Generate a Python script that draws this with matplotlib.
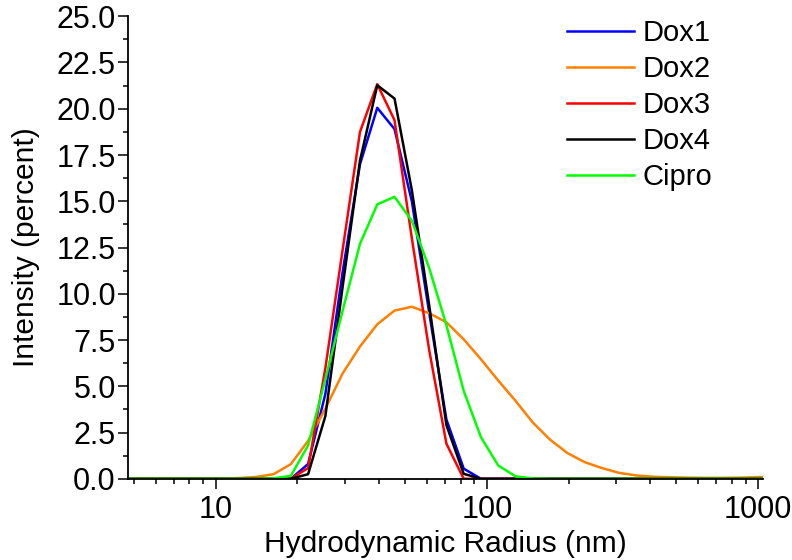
import matplotlib
matplotlib.use("Agg")
import matplotlib.pyplot as plt
from matplotlib.ticker import MultipleLocator, LogLocator, FixedLocator

plt.rcParams['font.family'] = ['Liberation Sans', 'DejaVu Sans']

# size classes (nm)
radius = [4.36, 5.05, 5.85, 6.77, 7.85, 9.08, 10.52, 12.18, 14.11, 16.34,
          18.92, 21.91, 25.38, 29.39, 34.04, 39.42, 45.64, 52.87, 61.23, 70.91,
          82.12, 95.08, 110.1, 127.6, 147.7, 171.1, 198.2, 229.4, 265.7, 307.7,
          356.3, 412.7, 478.0, 553.4, 641.0, 742.4, 859.7, 995.4, 1153]

dox1 = [0, 0, 0, 0, 0, 0, 0, 0, 0, 0,
        0.0, 0.8, 4.6, 11.2, 17.0, 20.05, 18.9, 15.0, 9.0, 3.2,
        0.55, 0, 0, 0, 0, 0, 0, 0, 0, 0,
        0, 0, 0, 0, 0, 0, 0, 0, 0]
dox2 = [0.01, 0.01, 0.01, 0.01, 0.01, 0.01, 0.02, 0.04, 0.1, 0.25,
        0.79, 2.05, 3.8, 5.7, 7.15, 8.35, 9.09, 9.30, 8.95, 8.46,
        7.54, 6.46, 5.31, 4.21, 3.04, 2.11, 1.39, 0.90, 0.58, 0.32,
        0.18, 0.11, 0.08, 0.06, 0.05, 0.05, 0.06, 0.09, 0.12]
dox3 = [0, 0, 0, 0, 0, 0, 0, 0, 0, 0,
        0.0, 0.58, 6.0, 12.4, 18.75, 21.33, 19.38, 13.0, 6.97, 1.9,
        0.0, 0, 0, 0, 0, 0, 0, 0, 0, 0,
        0, 0, 0, 0, 0, 0, 0, 0, 0]
dox4 = [0, 0, 0, 0, 0, 0, 0, 0, 0, 0,
        0.0, 0.25, 3.4, 10.4, 17.2, 21.27, 20.55, 15.6, 9.4, 2.9,
        0.27, 0, 0, 0, 0, 0, 0, 0, 0, 0,
        0, 0, 0, 0, 0, 0, 0, 0, 0]
cipro = [0, 0, 0, 0, 0, 0, 0, 0, 0, 0.02,
         0.16, 1.8, 5.4, 9.1, 12.7, 14.83, 15.24, 13.95, 11.4, 8.3,
         4.75, 2.25, 0.72, 0.13, 0.02, 0, 0, 0, 0, 0,
         0, 0, 0, 0, 0, 0, 0, 0, 0]

series = [("Dox1", dox1, "#0000ff"),
          ("Dox2", dox2, "#ff7f00"),
          ("Dox3", dox3, "#ff0000"),
          ("Dox4", dox4, "#000000"),
          ("Cipro", cipro, "#00ff00")]

fig = plt.figure(figsize=(7.92, 5.60), dpi=100)
ax = fig.add_axes([0.162, 0.145, 0.801, 0.826])

for name, vals, color in series:
    ax.plot(radius, vals, color=color, lw=1.8, label=name)

ax.set_xscale('log')
ax.set_xlim(4.76, 1040)
ax.set_ylim(0, 25)

ax.yaxis.set_major_locator(MultipleLocator(2.5))
ax.yaxis.set_minor_locator(MultipleLocator(1.25))
ax.yaxis.set_major_formatter(matplotlib.ticker.FormatStrFormatter('%.1f'))
ax.xaxis.set_major_locator(FixedLocator([10, 100, 1000]))
ax.xaxis.set_major_formatter(matplotlib.ticker.FormatStrFormatter('%d'))
ax.xaxis.set_minor_locator(LogLocator(base=10, subs=range(2, 10)))
ax.xaxis.set_minor_formatter(matplotlib.ticker.NullFormatter())

for side in ('top', 'right'):
    ax.spines[side].set_visible(False)
for side in ('left', 'bottom'):
    ax.spines[side].set_linewidth(1.3)

ax.tick_params(which='major', direction='out', length=7, width=1.1,
               labelsize=22, pad=2)
ax.tick_params(axis='x', which='major', pad=5)
ax.tick_params(which='minor', direction='out', length=3.6, width=1.1)

ax.set_xlabel("Hydrodynamic Radius (nm)", fontsize=21.5, labelpad=3)
ax.set_ylabel("Intensity (percent)", fontsize=21.5, labelpad=12)

ax.legend(loc='upper left', bbox_to_anchor=(0.705, 0.982),
          bbox_transform=fig.transFigure, frameon=False,
          fontsize=21, handlelength=2.3, handletextpad=0.3,
          labelspacing=0.28, borderaxespad=0.0, borderpad=0.3)

fig.savefig("out.png", dpi=100)
